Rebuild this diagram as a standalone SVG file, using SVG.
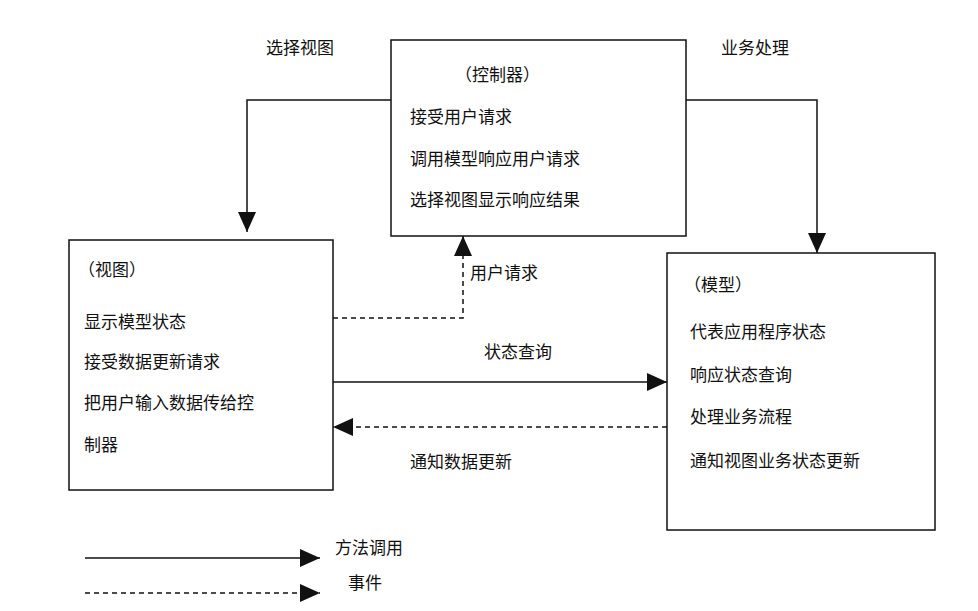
<svg xmlns="http://www.w3.org/2000/svg" width="978" height="611" viewBox="0 0 978 611">
<style>
text{font-family:"Liberation Sans","Noto Sans CJK SC",sans-serif;font-size:17px;fill:#111}
.box{fill:#fff;stroke:#111;stroke-width:1.5}
.ln{fill:none;stroke:#111;stroke-width:1.5}
.d{stroke-dasharray:5,4}
</style>
<defs>
<marker id="ah" markerWidth="20" markerHeight="18" refX="20" refY="9" orient="auto" markerUnits="userSpaceOnUse"><path d="M0,0L20,9L0,18z" fill="#111"/></marker>
</defs>
<rect width="978" height="611" fill="#fff"/>
<g id="connectors">
<path class="ln" d="M391,100H247V232" marker-end="url(#ah)"/>
<path class="ln" d="M686,100H817V253" marker-end="url(#ah)"/>
<path class="ln d" d="M333,318H463V236" marker-end="url(#ah)"/>
<path class="ln" d="M333,382H667" marker-end="url(#ah)"/>
<path class="ln d" d="M667,427H333" marker-end="url(#ah)"/>
<text x="300" y="54" text-anchor="middle">选择视图</text>
<text x="755" y="54" text-anchor="middle">业务处理</text>
<text x="470" y="279">用户请求</text>
<text x="484" y="358">状态查询</text>
<text x="410" y="468">通知数据更新</text>
</g>
<g id="controller">
<rect class="box" x="391" y="40" width="295" height="196"/>
<text x="455" y="81">（控制器）</text>
<text x="410" y="123">接受用户请求</text>
<text x="410" y="165">调用模型响应用户请求</text>
<text x="410" y="206">选择视图显示响应结果</text>
</g>
<g id="view">
<rect class="box" x="69" y="240" width="264" height="250"/>
<text x="78" y="276">（视图）</text>
<text x="84" y="328">显示模型状态</text>
<text x="84" y="368">接受数据更新请求</text>
<text x="84" y="409">把用户输入数据传给控</text>
<text x="84" y="451">制器</text>
</g>
<g id="model">
<rect class="box" x="667" y="253" width="268" height="277"/>
<text x="684" y="291">（模型）</text>
<text x="690" y="338">代表应用程序状态</text>
<text x="690" y="381">响应状态查询</text>
<text x="690" y="423">处理业务流程</text>
<text x="690" y="467">通知视图业务状态更新</text>
</g>
<g id="legend">
<path class="ln" d="M85,558H320" marker-end="url(#ah)"/>
<path class="ln d" d="M85,593H320" marker-end="url(#ah)"/>
<text x="335" y="554">方法调用</text>
<text x="348" y="589">事件</text>
</g>
</svg>
